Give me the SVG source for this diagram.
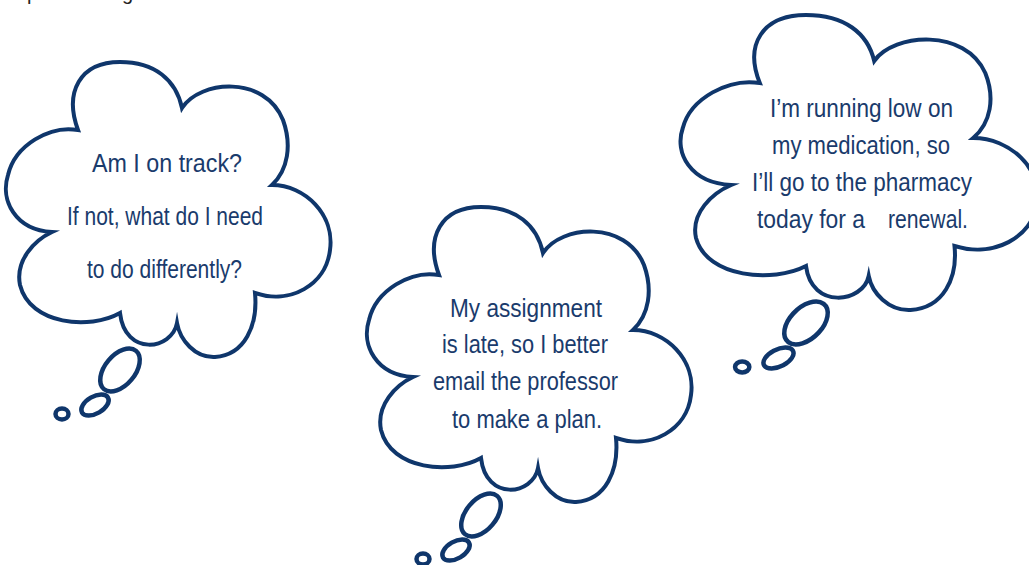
<svg xmlns="http://www.w3.org/2000/svg" xmlns:xlink="http://www.w3.org/1999/xlink" width="1029" height="565" viewBox="0 0 1029 565">
  <style>
    .outline { fill: #ffffff; stroke: #0f366b; stroke-width: 4; stroke-linejoin: miter; stroke-miterlimit: 6; }
    .bubble { fill: #ffffff; stroke: #0f366b; stroke-width: 4.5; }
    .say { font-family: "Liberation Sans Narrow", "Liberation Sans", Arial, sans-serif; font-size: 25px; fill: #1a3b6c; text-anchor: middle; }
    .cut { font-family: "Liberation Sans", Arial, sans-serif; font-size: 20px; fill: #222222; }
  </style>
  <defs>
    <!-- one thought-cloud outline, drawn once and placed three times -->
    <path id="cloud" class="outline" vector-effect="non-scaling-stroke" d="M78,130 C64,92 80,62 120,62 C155,62 176,80 182,108 C200,80 265,75 283,120 C292,145 288,170 272,185 C305,185 335,215 330,250 C326,285 290,305 255,293 C258,325 245,355 215,357 C195,358 180,340 177,323 C172,350 125,357 120,313 C90,330 30,325 20,285 C15,260 35,240 52,232 C15,230 0,200 8,175 C15,145 50,125 78,130 Z"/>
    <g id="trail">
      <ellipse class="bubble" vector-effect="non-scaling-stroke" cx="120" cy="370" rx="25" ry="15" transform="rotate(-50 120 370)"/>
      <ellipse class="bubble" vector-effect="non-scaling-stroke" cx="95" cy="405" rx="15" ry="8.5" transform="rotate(-30 95 405)"/>
      <ellipse class="bubble" vector-effect="non-scaling-stroke" cx="62" cy="414" rx="6.5" ry="5.5"/>
    </g>
  </defs>

  <!-- heading line cut off by the top edge -->
  <text class="cut" y="0"><tspan x="27">p</tspan><tspan x="122">g</tspan></text>

  <g id="thought-on-track">
    <use xlink:href="#cloud"/>
    <use xlink:href="#trail"/>
    <text class="say" x="167" y="172" font-size="27" textLength="150" lengthAdjust="spacingAndGlyphs">Am I on track?</text>
    <text class="say" x="165" y="225" font-size="27" textLength="196" lengthAdjust="spacingAndGlyphs">If not, what do I need</text>
    <text class="say" x="164.5" y="278" font-size="27" textLength="155" lengthAdjust="spacingAndGlyphs">to do differently?</text>
  </g>

  <g id="thought-assignment">
    <g transform="translate(361 145)">
      <use xlink:href="#cloud"/>
      <use xlink:href="#trail"/>
    </g>
    <text class="say" x="526" y="317" textLength="152" lengthAdjust="spacingAndGlyphs">My assignment</text>
    <text class="say" x="525" y="353" textLength="166" lengthAdjust="spacingAndGlyphs">is late, so I better</text>
    <text class="say" x="525.5" y="390" textLength="185" lengthAdjust="spacingAndGlyphs">email the professor</text>
    <text class="say" x="527" y="428" textLength="150" lengthAdjust="spacingAndGlyphs">to make a plan.</text>
  </g>

  <g id="thought-medication">
    <g transform="translate(674 -47) scale(1.1 1)">
      <use xlink:href="#cloud"/>
      <use xlink:href="#trail"/>
    </g>
    <text class="say" x="861.5" y="117" textLength="183" lengthAdjust="spacingAndGlyphs">I’m running low on</text>
    <text class="say" x="861" y="154" textLength="178" lengthAdjust="spacingAndGlyphs">my medication, so</text>
    <text class="say" x="862" y="191" textLength="220" lengthAdjust="spacingAndGlyphs">I’ll go to the pharmacy</text>
    <text class="say" x="811" y="228" textLength="108" lengthAdjust="spacingAndGlyphs">today for a</text>
    <text class="say" x="928" y="228" textLength="80" lengthAdjust="spacingAndGlyphs">renewal.</text>
  </g>
</svg>
